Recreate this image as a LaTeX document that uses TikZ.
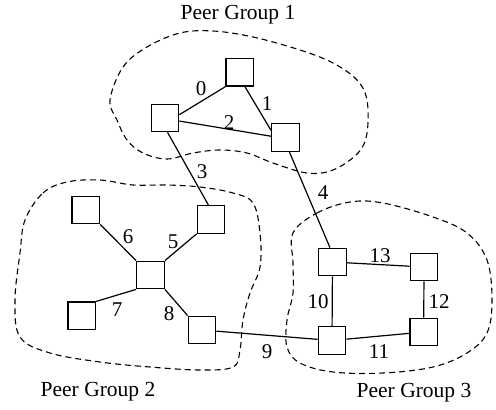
\documentclass[tikz,border=0pt]{standalone}
\usepackage{fontspec}
\setmainfont{Liberation Serif}
\begin{document}
\begin{tikzpicture}[x=1pt,y=-1pt,
  peer/.style={draw,line width=1.3pt,minimum size=27.5pt,inner sep=0pt},
  link/.style={line width=1.2pt},
  grp/.style={dash pattern=on 6pt off 4pt,line width=1.1pt},
  lbl/.style={font=\fontsize{21}{21}\selectfont,inner sep=0pt},
  glbl/.style={font=\fontsize{21.5}{22}\selectfont,inner sep=0pt}]
\useasboundingbox (0,0) rectangle (496,410);
% peer groups
\draw[grp] plot[smooth cycle,tension=0.6] coordinates {(110,100) (123,67) (147,47) (180,33) (213,31) (253,37) (300,50) (333,63) (357,80) (367,100) (367,133) (358,153) (333,170) (307,173) (273,163) (247,153) (220,150) (193,153) (167,159) (143,153) (127,140) (117,120)};
\draw[grp] plot[smooth cycle,tension=0.6] coordinates {(25,220) (43,193) (67,182) (100,180) (133,185) (167,185) (200,187) (233,193) (253,203) (260,233) (260,267) (250,293) (243,320) (240,350) (233,367) (200,370) (150,367) (100,362) (50,353) (20,337) (15,300) (20,253)};
\draw[grp] plot[smooth cycle,tension=0.6] coordinates {(293,233) (317,213) (350,202) (383,203) (433,217) (467,233) (487,260) (492,300) (487,333) (467,353) (433,367) (383,373) (333,372) (300,363) (287,347) (287,320) (293,293) (293,263)};
% nodes
\node[peer] (A) at (239.7,72.3) {};
\node[peer] (B) at (165,118) {};
\node[peer] (C) at (285.5,137.5) {};
\node[peer] (D) at (85.8,210) {};
\node[peer] (E) at (211,219.5) {};
\node[peer] (F) at (150.5,275) {};
\node[peer] (G) at (81.8,315.8) {};
\node[peer] (H) at (202,330) {};
\node[peer] (I) at (332.5,262) {};
\node[peer] (J) at (424,267) {};
\node[peer] (K) at (332,340.5) {};
\node[peer] (L) at (423.7,332) {};
% links
\draw[link] (B.13) -- (A.south west);
\draw[link] (A.-70) -- (C.154);
\draw[link] (B.-12) -- (C.175);
\draw[link] (B.-80) -- (E.100);
\draw[link] (C.-75) -- (I.100);
\draw[link] (F.north east) -- (E.south west);
\draw[link] (F.north west) -- (D.south east);
\draw[link] (F.south west) -- (G.north east);
\draw[link] (F.south east) -- (H.north west);
\draw[link] (H) -- (K);
\draw[link] (I) -- (K);
\draw[link] (K) -- (L);
\draw[link] (J) -- (L);
\draw[link] (I) -- (J);
% labels
\node[lbl] (l0) at (201,89) {0};
\node[lbl] (l1) at (267,104) {1};
\node[lbl] (l2) at (229,123) {2};
\node[lbl] (l3) at (202,172) {3};
\node[lbl] (l4) at (323,193) {4};
\node[lbl] (l5) at (173,242) {5};
\node[lbl] (l6) at (128,237) {6};
\node[lbl] (l7) at (117,310) {7};
\node[lbl] (l8) at (169,314) {8};
\node[lbl] (l9) at (267,352) {9};
\node[lbl] (l10) at (318,302) {10};
\node[lbl] (l11) at (379,352) {11};
\node[lbl] (l12) at (439,302) {12};
\node[lbl] (l13) at (380,256) {13};
\node[glbl] (g1) at (238,15) {Peer Group 1};
\node[glbl] (g2) at (98,392) {Peer Group 2};
\node[glbl] (g3) at (414,393) {Peer Group 3};
\end{tikzpicture}
\end{document}
